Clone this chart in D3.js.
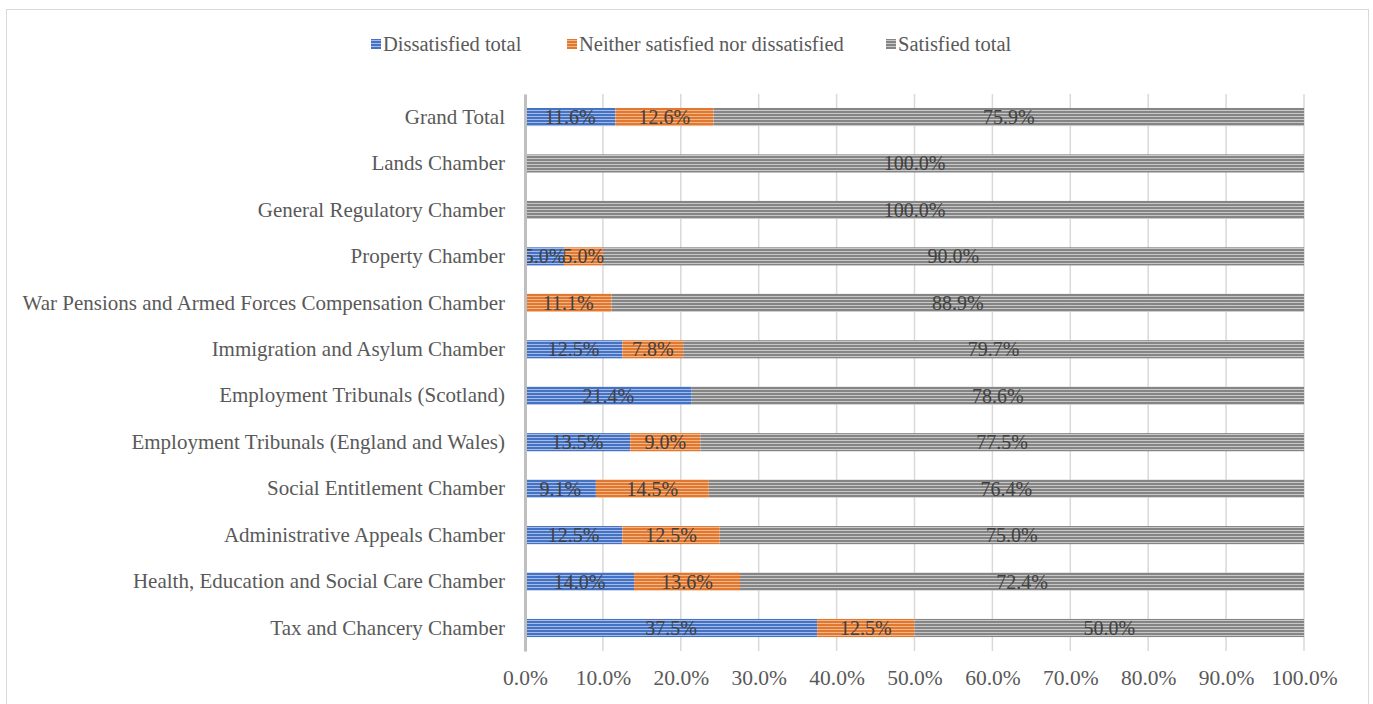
<!DOCTYPE html>
<html>
<head>
<meta charset="utf-8">
<script src="https://cdn.jsdelivr.net/npm/d3@7"></script>
<style>
  body { margin: 0; background: #fff; }
  svg text { font-family: "Liberation Serif", "DejaVu Serif", serif; }
</style>
</head>
<body>
<div id="chart"></div>
<script>
// categories, top to bottom as drawn
const categories = [
  "Grand Total",
  "Lands Chamber",
  "General Regulatory Chamber",
  "Property Chamber",
  "War Pensions and Armed Forces Compensation Chamber",
  "Immigration and Asylum Chamber",
  "Employment Tribunals (Scotland)",
  "Employment Tribunals (England and Wales)",
  "Social Entitlement Chamber",
  "Administrative Appeals Chamber",
  "Health, Education and Social Care Chamber",
  "Tax and Chancery Chamber"
];
const seriesNames = ["Dissatisfied total", "Neither satisfied nor dissatisfied", "Satisfied total"];
const dissatisfied = [11.6, 0, 0, 5.0, 0, 12.5, 21.4, 13.5, 9.1, 12.5, 14.0, 37.5];
const neither      = [12.6, 0, 0, 5.0, 11.1, 7.8, 0, 9.0, 14.5, 12.5, 13.6, 12.5];
const satisfied    = [75.9, 100.0, 100.0, 90.0, 88.9, 79.7, 78.6, 77.5, 76.4, 75.0, 72.4, 50.0];
const xTicks = [0, 10, 20, 30, 40, 50, 60, 70, 80, 90, 100];

const width = 1373, height = 704;
const margin = { top: 94, bottom: 53, left: 525, right: 69 };

const svg = d3.select("#chart").append("svg")
  .attr("width", width)
  .attr("height", height);

// stripe patterns
const stripes = [
  { id: "p0", dark: "#4472c4", light: "#a8bbe3" },
  { id: "p1", dark: "#e0782f", light: "#f3b58a" },
  { id: "p2", dark: "#858585", light: "#c8c8c8" }
];
const defs = svg.append("defs");
stripes.forEach(s => {
  const p = defs.append("pattern")
    .attr("id", s.id)
    .attr("patternUnits", "userSpaceOnUse")
    .attr("width", 8).attr("height", 3);
  p.append("rect").attr("width", 8).attr("height", 3).attr("fill", s.dark);
  p.append("rect").attr("y", 2).attr("width", 8).attr("height", 1).attr("fill", s.light);
});

// chart border
svg.append("rect")
  .attr("x", 6.5).attr("y", 9.5)
  .attr("width", 1362).attr("height", 710)
  .attr("fill", "none")
  .attr("stroke", "#d9d9d9");

const x = d3.scaleLinear()
  .domain([0, 100])
  .range([margin.left, width - margin.right]);
const y = d3.scaleBand()
  .domain(categories)
  .range([margin.top, height - margin.bottom])
  .paddingInner(0.61)
  .paddingOuter(0.3);

// gridlines
svg.append("g")
  .selectAll("line")
  .data(xTicks.slice(1))
  .enter()
  .append("line")
  .attr("x1", d => x(d)).attr("x2", d => x(d))
  .attr("y1", margin.top).attr("y2", height - margin.bottom)
  .attr("stroke", "#d9d9d9")
  .attr("stroke-width", 1.5);

// stacked data
const rows = categories.map((c, i) => ({
  cat: c, v: [dissatisfied[i], neither[i], satisfied[i]]
}));
const segs = [];
rows.forEach(r => {
  let acc = 0;
  r.v.forEach((v, k) => {
    if (v > 0) segs.push({ cat: r.cat, k, x0: acc, x1: acc + v, v });
    acc += v;
  });
});

svg.append("g")
  .selectAll("rect")
  .data(segs)
  .enter()
  .append("rect")
  .attr("x", d => x(d.x0))
  .attr("y", d => y(d.cat))
  .attr("width", d => x(Math.min(d.x1, 100)) - x(d.x0))
  .attr("height", y.bandwidth())
  .attr("fill", d => `url(#p${d.k})`);

svg.append("g")
  .selectAll("text")
  .data(segs)
  .enter()
  .append("text")
  .attr("x", d => (x(d.x0) + x(Math.min(d.x1, 100))) / 2)
  .attr("y", d => y(d.cat) + y.bandwidth() / 2)
  .attr("dy", "0.35em")
  .attr("text-anchor", "middle")
  .attr("font-size", 20)
  .attr("fill", "#404040")
  .text(d => d.v.toFixed(1) + "%");

// y axis
const yAxis = svg.append("g")
  .attr("transform", `translate(${margin.left}, 0)`)
  .call(d3.axisLeft(y).tickSize(0).tickPadding(20));
yAxis.select(".domain").attr("stroke", "#bfbfbf").attr("stroke-width", 3);
yAxis.selectAll("text")
  .attr("font-size", 21)
  .attr("fill", "#595959")
  .style("font-family", "Liberation Serif, serif");

// x axis
const xAxis = svg.append("g")
  .attr("transform", `translate(0, ${height - margin.bottom})`)
  .call(d3.axisBottom(x).tickValues(xTicks).tickSize(0).tickPadding(19)
    .tickFormat(d => d.toFixed(1) + "%"));
xAxis.select(".domain").remove();
xAxis.selectAll("text")
  .attr("font-size", 21.5)
  .attr("fill", "#595959")
  .style("font-family", "Liberation Serif, serif");

// legend
const legendX = [371, 567, 886];
const legend = svg.append("g")
  .selectAll("g")
  .data(seriesNames)
  .enter()
  .append("g")
  .attr("transform", (d, i) => `translate(${legendX[i]}, 44)`);
legend.append("rect")
  .attr("x", 0).attr("y", -5)
  .attr("width", 10).attr("height", 10)
  .attr("fill", (d, i) => `url(#p${i})`);
legend.append("text")
  .attr("x", 12)
  .attr("dy", "0.35em")
  .attr("font-size", 20.5)
  .attr("fill", "#595959")
  .text(d => d);
</script>
</body>
</html>
